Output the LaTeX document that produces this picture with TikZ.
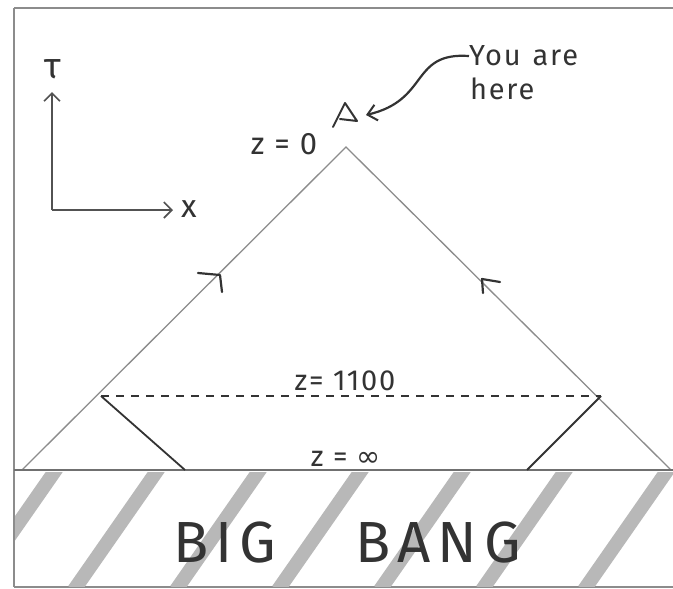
\documentclass[tikz,border=0pt]{standalone}
\usepackage{fontspec}
\setmainfont{Fira Sans}
\newfontfamily\dejavu{DejaVu Sans}
\usetikzlibrary{arrows.meta}
\definecolor{ink}{HTML}{333333}
\definecolor{pencil}{HTML}{8C8C8C}
\definecolor{hatch}{HTML}{B8B8B8}
\tikzset{
  lbl/.style={text=ink, inner sep=0pt},
  lightline/.style={draw=pencil, line width=1.3pt},
  darkline/.style={draw=ink, line width=1.8pt},
  axisline/.style={draw=ink!85, line width=1.6pt, -{Straight Barb[length=8pt,width=16pt,line width=1.6pt]}},
  stripe/.style={draw=hatch, line width=14pt},
  chev/.style={draw=ink, line width=2.2pt, line cap=round, line join=round},
  hand/.style={lbl, font=\fontsize{#1}{#1}\selectfont\addfontfeatures{LetterSpace=6}},
}
\begin{document}
\begin{tikzpicture}[x=1pt,y=-1pt]
\useasboundingbox (0,0) rectangle (673,589);
\fill[white] (0,0) rectangle (673,589);
% frame
\draw[pencil, line width=2pt] (14,8) -- (673,8);
\draw[pencil, line width=1.5pt] (14,8) -- (14,587);
\draw[pencil, line width=1.5pt] (14,587) -- (673,587);
% hatching
\begin{scope}
\clip (15,472) rectangle (673,586);
\foreach \t in {57,159,261,363,465,567,669,771}
  \draw[stripe] (\t,468) -- ({\t-85},590);
\end{scope}
% coordinates
\coordinate (apex) at (346,147);
\coordinate (bl) at (22,470);
\coordinate (br) at (671,470);
\coordinate (dl) at (101,396);
\coordinate (dr) at (601,396);
\coordinate (gl) at (185,470);
\coordinate (gr) at (527,470);
\coordinate (b0) at (14,470);
\coordinate (b1) at (673,470);
% light cone
\draw[lightline] (bl) -- (apex) -- (br);
\draw[draw=pencil!80!black, line width=2pt] (b0) -- (b1);
\draw[draw=ink, line width=1.2pt, dash pattern=on 8pt off 7pt] (dl) -- (dr);
\draw[darkline] (dl) -- (gl);
\draw[darkline] (dr) -- (gr);
% chevrons on cone
\draw[chev] (198,273) -- (220,275) -- (222,292);
\draw[chev] (500,282) -- (482,279) -- (483,293);
% axes
\coordinate (o) at (52,210);
\coordinate (ty) at (52,92);
\coordinate (tx) at (173,210);
\draw[axisline] (o) -- (ty);
\draw[axisline] (o) -- (tx);
\node[lbl, font=\fontsize{36}{36}\selectfont] (tau) at (53,69) {τ};
\node[lbl, font=\fontsize{32}{32}\selectfont] (xl) at (189,209) {x};
% observer
\draw[chev, line width=2pt] (333,127) -- (345,103) -- (357,121) -- (340,119);
\coordinate (obs) at (366,115);
% labels
\node[hand=29, anchor=west] (you) at (469,56) {You\hspace{12pt}are};
\node[hand=29, anchor=west] (here) at (470,89) {here};
\draw[draw=ink, line width=2.2pt, -{Straight Barb[length=9pt,width=16pt,line width=2pt]}]
  (you.west) .. controls (410,52) and (430,100) .. (obs);
\node[hand=31] (z0) at (284,144) {z = 0};
\node[hand=29] (z1100) at (345,381) {z= 1100};
\node[hand=29] (zinf) at (346,459) {z = {\dejavu ∞}};
\node[lbl, font=\fontsize{58}{58}\selectfont\addfontfeatures{LetterSpace=12}] (big) at (225,543) {BIG};
\node[lbl, font=\fontsize{58}{58}\selectfont\addfontfeatures{LetterSpace=12}] (bang) at (438,543) {BANG};
\end{tikzpicture}
\end{document}
